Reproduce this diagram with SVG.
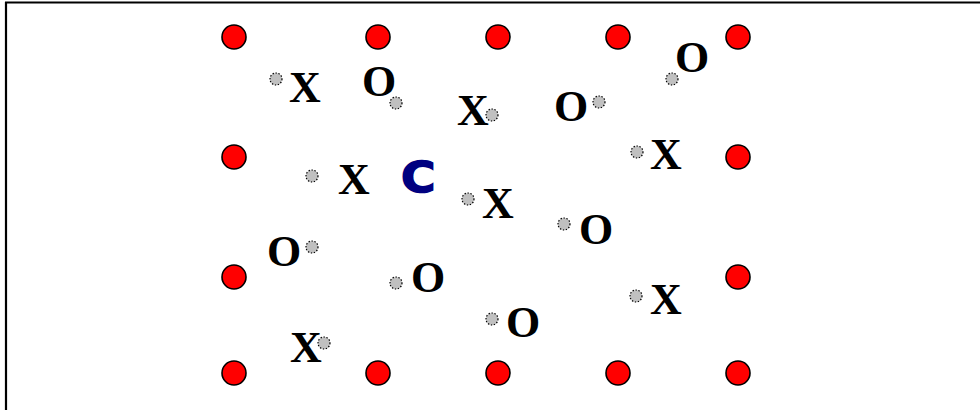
<svg xmlns="http://www.w3.org/2000/svg" width="980" height="410" viewBox="0 0 980 410">
<style>
.pin{fill:#ff0000;stroke:#000;stroke-width:1.6}
.dot{fill:#c0c0c0;stroke:#000;stroke-width:1.2;stroke-dasharray:1.4 1.6}
.lbl{font-family:"Liberation Serif","Times New Roman",serif;font-weight:bold;font-size:44px;fill:#000}
.c{font-family:"DejaVu Sans","Liberation Sans",sans-serif;font-weight:bold;font-size:42px;fill:#000080;stroke:#000080;stroke-width:1.5}
</style>
<rect width="980" height="410" fill="#fff"/>
<g id="frame">
<line x1="5" y1="2.5" x2="980" y2="2.5" stroke="#000" stroke-width="2"/>
<line x1="6" y1="2" x2="6" y2="410" stroke="#000" stroke-width="2.2"/>
</g>
<g id="pins">
<circle class="pin" cx="234" cy="37" r="12"/>
<circle class="pin" cx="378" cy="37" r="12"/>
<circle class="pin" cx="498" cy="37" r="12"/>
<circle class="pin" cx="618" cy="37" r="12"/>
<circle class="pin" cx="738" cy="37" r="12"/>
<circle class="pin" cx="234" cy="157" r="12"/>
<circle class="pin" cx="738" cy="157" r="12"/>
<circle class="pin" cx="234" cy="277" r="12"/>
<circle class="pin" cx="738" cy="277" r="12"/>
<circle class="pin" cx="234" cy="373" r="12"/>
<circle class="pin" cx="378" cy="373" r="12"/>
<circle class="pin" cx="498" cy="373" r="12"/>
<circle class="pin" cx="618" cy="373" r="12"/>
<circle class="pin" cx="738" cy="373" r="12"/>
</g>
<g id="n1"><circle class="dot" cx="276" cy="79" r="6"/><text class="lbl" x="289" y="102">X</text></g>
<g id="n2"><circle class="dot" cx="396" cy="103" r="6"/><text class="lbl" x="362" y="96">O</text></g>
<g id="n3"><circle class="dot" cx="492" cy="115" r="6"/><text class="lbl" x="457" y="125">X</text></g>
<g id="n4"><circle class="dot" cx="599" cy="102" r="6"/><text class="lbl" x="554" y="121">O</text></g>
<g id="n5"><circle class="dot" cx="672" cy="79" r="6"/><text class="lbl" x="675" y="72">O</text></g>
<g id="n6"><circle class="dot" cx="637" cy="152" r="6"/><text class="lbl" x="650" y="169">X</text></g>
<g id="n7"><circle class="dot" cx="312" cy="176" r="6"/><text class="lbl" x="338" y="194">X</text></g>
<g id="n8"><text class="c" x="0" y="0" transform="translate(401,192) scale(1.12,1)">C</text></g>
<g id="n9"><circle class="dot" cx="468" cy="199" r="6"/><text class="lbl" x="482" y="218">X</text></g>
<g id="n10"><circle class="dot" cx="564" cy="224" r="6"/><text class="lbl" x="579" y="244">O</text></g>
<g id="n11"><circle class="dot" cx="312" cy="247" r="6"/><text class="lbl" x="267" y="266">O</text></g>
<g id="n12"><circle class="dot" cx="396" cy="283" r="6"/><text class="lbl" x="411" y="292">O</text></g>
<g id="n13"><circle class="dot" cx="492" cy="319" r="6"/><text class="lbl" x="506" y="337">O</text></g>
<g id="n14"><circle class="dot" cx="636" cy="296" r="6"/><text class="lbl" x="650" y="314">X</text></g>
<g id="n15"><circle class="dot" cx="324" cy="343" r="6"/><text class="lbl" x="290" y="362">X</text></g>
<g id="connectors"/>
</svg>
